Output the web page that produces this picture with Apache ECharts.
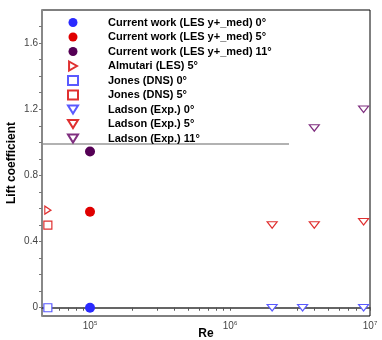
<!DOCTYPE html>
<html>
<head>
<meta charset="utf-8">
<script src="https://cdn.jsdelivr.net/npm/echarts@6/dist/echarts.min.js"></script>
<style>
  html, body { margin: 0; padding: 0; background: #fff; }
  #chart { width: 382px; height: 340px; }
</style>
</head>
<body>
<div id="chart"></div>
<script>
// data: [Re, lift coefficient]
const currentWork0 = [[1e5, 0]]
const currentWork5 = [[1e5, 0.58]]
const currentWork11 = [[1e5, 0.945]]
const almutari5 = [[5e4, 0.59]]
const jones0 = [[5e4, 0]]
const jones5 = [[5e4, 0.5]]
const ladson0 = [[2e6, 0], [3.3e6, 0], [9e6, 0]]
const ladson5 = [[2e6, 0.5], [4e6, 0.5], [9e6, 0.52]]
const ladson11 = [[4e6, 1.087], [9e6, 1.2]]

// tick values
const xLabelValues = [1e5, 1e6, 1e7]
const xTickValues = [5e4, 6e4, 7e4, 8e4, 9e4, 1e5, 2e5, 3e5, 4e5, 5e5, 6e5, 7e5, 8e5, 9e5,
  1e6, 2e6, 3e6, 4e6, 5e6, 6e6, 7e6, 8e6, 9e6, 1e7]
const yLabelValues = [0, 0.4, 0.8, 1.2, 1.6]
const yTickValues = [0, 0.1, 0.2, 0.3, 0.4, 0.5, 0.6, 0.7, 0.8, 0.9, 1.0, 1.1, 1.2, 1.3, 1.4, 1.5, 1.6, 1.7]

const font = 'Liberation Sans, Arial, Helvetica, sans-serif'
const triDown = 'path://M0,0L10,0L5,8Z'
const triRight = 'path://M0,0L7,4L0,8Z'

function filled (name, data, color) {
  return {
    name: name,
    type: 'scatter',
    symbol: 'circle',
    symbolSize: 10,
    itemStyle: { color: color, opacity: 1 },
    data: data
  }
}

function hollow (name, data, color, symbol) {
  let size = [10, 8]
  if (symbol === 'rect') size = 8
  if (symbol === triRight) size = [7, 8]
  return {
    name: name,
    type: 'scatter',
    symbol: symbol,
    symbolSize: size,
    symbolKeepAspect: true,
    itemStyle: { color: '#fff', borderColor: color, borderWidth: 1.2, opacity: 1 },
    data: data
  }
}

const series = [
  filled('Current work (LES y+_med) 0°', currentWork0, '#2a2aff'),
  filled('Current work (LES y+_med) 5°', currentWork5, '#e00000'),
  filled('Current work (LES y+_med) 11°', currentWork11, '#550055'),
  hollow('Almutari (LES) 5°', almutari5, '#e03030', triRight),
  hollow('Jones (DNS) 0°', jones0, '#5a5aff', 'rect'),
  hollow('Jones (DNS) 5°', jones5, '#e03030', 'rect'),
  hollow('Ladson (Exp.) 0°', ladson0, '#5a5aff', triDown),
  hollow('Ladson (Exp.) 5°', ladson5, '#e03030', triDown),
  hollow('Ladson (Exp.) 11°', ladson11, '#803080', triDown)
]

const chart = echarts.init(document.getElementById('chart'))
chart.setOption({
  animation: false,
  backgroundColor: '#fff',
  grid: {
    left: 42,
    right: 12,
    top: 10,
    bottom: 24,
    outerBoundsMode: 'none',
    containLabel: false,
    show: true,
    borderColor: '#000',
    borderWidth: 1
  },
  legend: {
    orient: 'vertical',
    left: 67,
    top: 17,
    itemWidth: 10,
    itemHeight: 9,
    itemGap: 3.5,
    padding: 0,
    symbolKeepAspect: true,
    textStyle: {
      fontFamily: font,
      fontSize: 11,
      fontWeight: 'bold',
      color: '#000',
      lineHeight: 10,
      height: 10,
      padding: [0, 0, 0, 25]
    },
    data: series.map(function (s) { return s.name })
  },
  graphic: [
    // bottom edge of the legend frame
    { type: 'line', shape: { x1: 42, y1: 144, x2: 289, y2: 144 }, style: { stroke: '#999', lineWidth: 1.5 } }
  ],
  xAxis: {
    type: 'log',
    min: 45400,
    max: 1e7,
    name: 'Re',
    nameLocation: 'middle',
    nameGap: 12,
    nameMoveOverlap: false,
    nameTextStyle: { fontFamily: font, fontSize: 12, fontWeight: 'bold', color: '#000' },
    axisLine: { lineStyle: { color: '#333', width: 1.5 } },
    axisTick: { customValues: xTickValues, length: 3, lineStyle: { color: '#555' } },
    axisLabel: {
      customValues: xLabelValues,
      margin: 4,
      fontFamily: font,
      fontSize: 10,
      color: '#444',
      formatter: function (v) {
        return '10{sup|' + Math.round(Math.log10(v)) + '}'
      },
      rich: {
        sup: { fontSize: 6, verticalAlign: 'top', padding: [0, 0, 6, 0], color: '#444' }
      }
    },
    splitLine: { show: false }
  },
  yAxis: {
    type: 'value',
    min: -0.05,
    max: 1.8,
    name: 'Lift coefficient',
    nameLocation: 'middle',
    nameGap: 24,
    nameMoveOverlap: false,
    nameTextStyle: { fontFamily: font, fontSize: 12, fontWeight: 'bold', color: '#000' },
    axisLine: { lineStyle: { color: '#888', width: 2 } },
    axisTick: { customValues: yTickValues, length: 3, lineStyle: { color: '#777' } },
    axisLabel: {
      customValues: yLabelValues,
      margin: 4,
      fontFamily: font,
      fontSize: 10,
      color: '#444',
      formatter: function (v) { return String(v) }
    },
    splitLine: { show: false }
  },
  series: series
})
</script>
</body>
</html>
